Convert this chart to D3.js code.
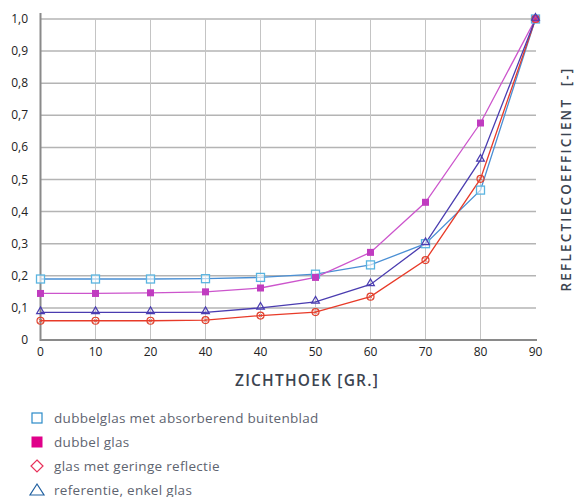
<!DOCTYPE html>
<html><head><meta charset="utf-8">
<script src="https://cdn.jsdelivr.net/npm/d3@7"></script>
<style>body{margin:0;background:#fff}svg{display:block}text{font-family:"Open Sans",sans-serif}</style>
</head><body><svg id="c" width="574" height="497"></svg>
<script>
const categories = ["0","10","20","40","40","50","60","70","80","90"];
const yTicks = [0,0.1,0.2,0.3,0.4,0.5,0.6,0.7,0.8,0.9,1.0];
const seriesNames = ["dubbelglas met absorberend buitenblad","dubbel glas","glas met geringe reflectie","referentie, enkel glas"];
const absorberend = [0.19,0.19,0.19,0.191,0.195,0.205,0.234,0.30,0.467,1.0];
const dubbel = [0.145,0.145,0.147,0.150,0.162,0.195,0.273,0.429,0.676,1.0];
const gering = [0.060,0.060,0.060,0.062,0.076,0.087,0.135,0.249,0.502,1.0];
const referentie = [0.086,0.086,0.086,0.086,0.100,0.119,0.173,0.301,0.561,1.0];

const svg = d3.select("#c");
const x = d3.scalePoint().domain(d3.range(categories.length)).range([40.5,535.5]);
const y = d3.scaleLinear().domain([0,1]).range([340,19]);

const g = svg.append("g");
g.selectAll(".h").data(yTicks.slice(1)).join("line")
  .attr("x1",40).attr("x2",536).attr("y1",d=>y(d)).attr("y2",d=>y(d))
  .attr("stroke","#b4b4b4").attr("stroke-width",1.5);
g.selectAll(".v").data(d3.range(1,categories.length-1)).join("line")
  .attr("x1",d=>x(d)).attr("x2",d=>x(d)).attr("y1",19).attr("y2",340)
  .attr("stroke","#c4c4c4").attr("stroke-width",1);
svg.append("line").attr("x1",40.5).attr("x2",40.5).attr("y1",13).attr("y2",341).attr("stroke","#8a8a8a").attr("stroke-width",2);
svg.append("line").attr("x1",40).attr("x2",537).attr("y1",340).attr("y2",340).attr("stroke","#8a8a8a").attr("stroke-width",2);

svg.selectAll(".yl").data(yTicks).join("text")
  .attr("x",28).attr("y",d=>y(d)+4).attr("text-anchor","end")
  .attr("font-size",12).attr("fill","#222")
  .text(d=>d===0?"0":d3.format(".1f")(d).replace(".",","));
svg.selectAll(".xl").data(categories).join("text")
  .attr("x",(d,i)=>x(i)).attr("y",356).attr("text-anchor","middle")
  .attr("font-size",12).attr("fill","#222").text(d=>d);

svg.append("text").attr("x",307).attr("y",386).attr("text-anchor","middle")
  .attr("font-size",15.5).attr("letter-spacing",1.2).attr("font-weight",600).attr("fill","#3c4450").text("ZICHTHOEK [GR.]");
svg.append("text").attr("transform","translate(571,179) rotate(-90)").attr("text-anchor","middle")
  .attr("font-size",13.5).attr("letter-spacing",2.2).attr("fill","#3c4450").attr("font-weight",600)
  .attr("xml:space","preserve").text("REFLECTIECOEFFICIENT  [-]");

const line = d3.line().x((d,i)=>x(i)).y(d=>y(d));
const series = [
  {vals:absorberend, line:"#4a8fd4", mk:"#5ab4e0", type:"sq"},
  {vals:dubbel, line:"#cc55cc", mk:"#c03cc0", type:"fsq"},
  {vals:gering, line:"#e83a28", mk:"#e0402c", type:"circ"},
  {vals:referentie, line:"#4a3cb0", mk:"#4a3cb0", type:"tri"}
];
series.forEach(s=>{
  svg.append("path").attr("d",line(s.vals)).attr("fill","none").attr("stroke",s.line).attr("stroke-width",1.3);
});
const tri = d3.symbol().type(d3.symbolTriangle).size(26);
series.forEach(s=>{
  const m = svg.append("g");
  s.vals.forEach((v,i)=>{
    const cx=x(i), cy=y(v);
    if(s.type==="sq") m.append("rect").attr("x",cx-4).attr("y",cy-4).attr("width",8).attr("height",8).attr("fill","#fff").attr("fill-opacity",0.6).attr("stroke",s.mk).attr("stroke-width",1.3);
    else if(s.type==="fsq") m.append("rect").attr("x",cx-3.5).attr("y",cy-3.5).attr("width",7).attr("height",7).attr("fill",s.mk);
    else if(s.type==="circ"){ m.append("circle").attr("cx",cx).attr("cy",cy).attr("r",3.5).attr("fill","none").attr("stroke",s.mk).attr("stroke-width",1.2);
      m.append("path").attr("d",`M${cx-2},${cy-2}L${cx+2},${cy+2}M${cx+2},${cy-2}L${cx-2},${cy+2}`).attr("stroke",s.mk).attr("stroke-width",0.8);}
    else m.append("path").attr("d",tri()).attr("transform",`translate(${cx},${cy-1})`).attr("fill","none").attr("stroke",s.mk).attr("stroke-width",1.2);
  });
});

const lg = svg.append("g");
const legColors = ["#2a8ac8","#e0008a","#e8305a","#2060a0"];
seriesNames.forEach((n,i)=>{
  const cy = 418 + i*24, cx = 37;
  if(i===0) lg.append("rect").attr("x",cx-5).attr("y",cy-5).attr("width",10).attr("height",10).attr("fill","none").attr("stroke",legColors[i]).attr("stroke-width",1.2);
  else if(i===1) lg.append("rect").attr("x",cx-5.5).attr("y",cy-5.5).attr("width",11).attr("height",11).attr("fill",legColors[i]);
  else if(i===2) lg.append("path").attr("d",`M${cx},${cy-6}L${cx+6},${cy}L${cx},${cy+6}L${cx-6},${cy}Z`).attr("fill","none").attr("stroke",legColors[i]).attr("stroke-width",1.2);
  else lg.append("path").attr("d",`M${cx},${cy-6}L${cx+7},${cy+5}L${cx-7},${cy+5}Z`).attr("fill","none").attr("stroke",legColors[i]).attr("stroke-width",1.2);
  lg.append("text").attr("x",54).attr("y",cy+5).attr("font-size",13.5).attr("letter-spacing",0.3).attr("fill","#5e6470").text(n);
});
</script></body></html>
